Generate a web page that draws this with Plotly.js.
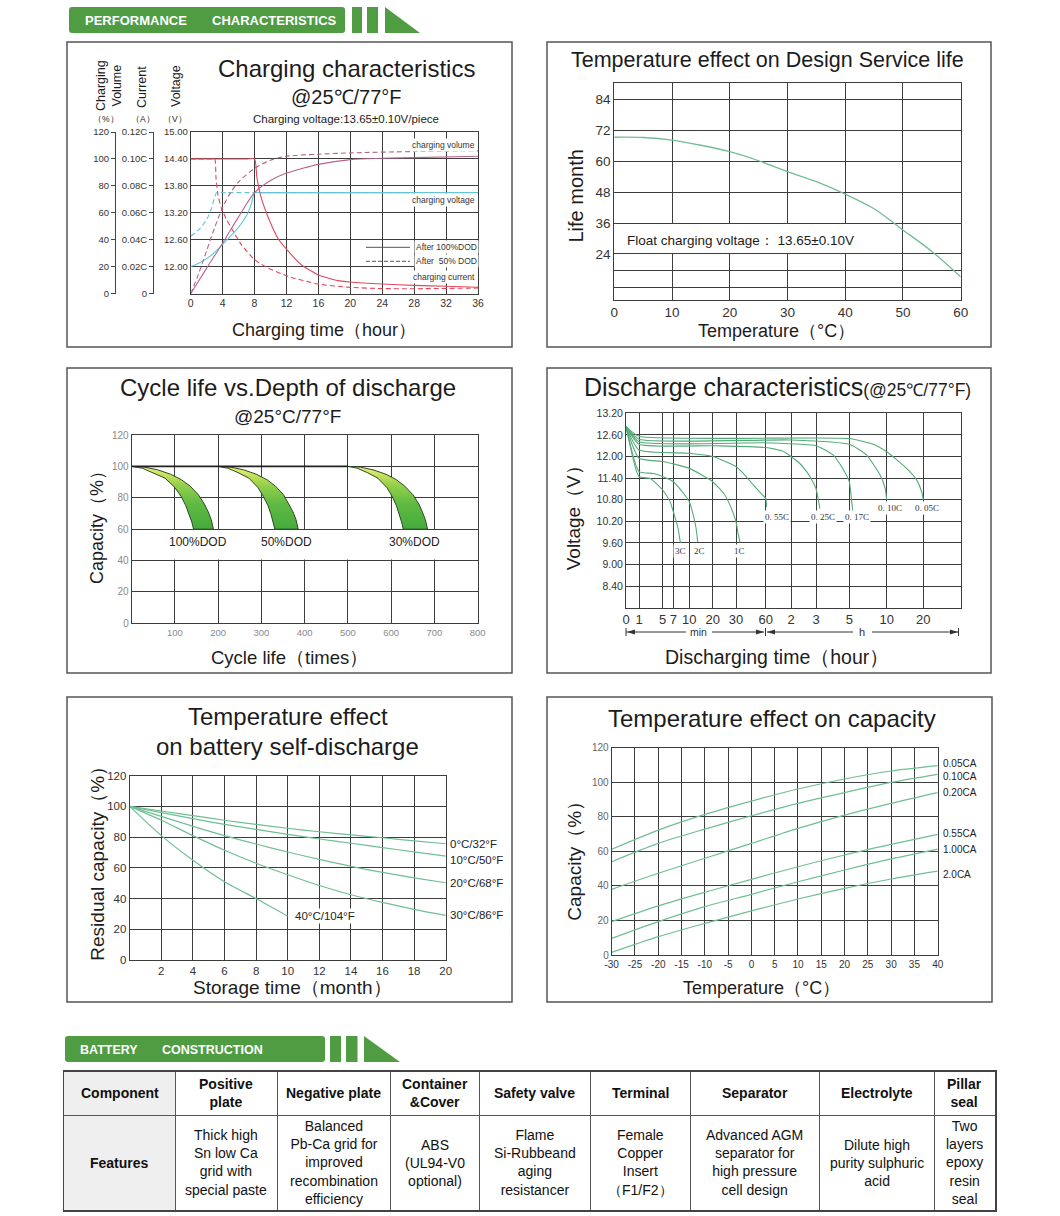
<!DOCTYPE html>
<html>
<head>
<meta charset="utf-8">
<script src="https://cdn.plot.ly/plotly-3.0.1.min.js"></script>
<style>
html,body{margin:0;padding:0;background:#ffffff;}
#chart{width:1060px;height:1216px;}
</style>
</head>
<body>
<div id="chart"></div>
<script>
// ================= DATA =================
// --- Charging characteristics (time in hours) ---
const chgCurT100 = [0, 7, 8, 8.3, 8.85, 9.9, 10.94, 12, 13.86, 15.95, 18.45, 20, 24, 28, 32, 36];
const chgCur100  = [0.100, 0.100, 0.100, 0.086, 0.071, 0.054, 0.041, 0.033, 0.0215, 0.0141, 0.0097, 0.0087, 0.0072, 0.0062, 0.0055, 0.0048];
const chgCurT50  = [0, 2.5, 3.0, 3.17, 3.42, 3.84, 4.5, 5.09, 6.35, 8.02, 9.69, 12.19, 15.95, 20, 24, 28, 36];
const chgCur50   = [0.100, 0.100, 0.100, 0.086, 0.0735, 0.0636, 0.055, 0.0488, 0.0364, 0.0252, 0.0191, 0.0129, 0.0072, 0.0047, 0.0038, 0.0037, 0.0042];
const chgVolT100 = [0, 2, 4, 6, 8, 10, 12, 14, 16, 20, 24, 28, 36];
const chgVol100  = [0, 19, 37.5, 57, 75, 84, 89.5, 93, 96, 99.5, 100.5, 101, 102];
const chgVolT50  = [0, 1, 2, 3, 4, 5, 6, 8, 10, 12, 16, 20, 28, 36];
const chgVol50   = [0, 15, 32, 49, 64, 75, 83, 93, 99, 102, 103.5, 104.5, 105.5, 106];
const chgVoltT100 = [0, 1, 2, 3, 4, 5, 6, 7, 7.6, 8, 9, 36];
const chgVolt100  = [12.0, 12.08, 12.18, 12.32, 12.5, 12.68, 12.88, 13.14, 13.4, 13.65, 13.65, 13.65];
const chgVoltT50  = [0, 1, 2, 2.6, 3, 3.25, 4, 36];
const chgVolt50   = [12.68, 12.82, 13.05, 13.3, 13.55, 13.65, 13.65, 13.65];
const chgVolTicks = [0, 20, 40, 60, 80, 100, 120];
const chgCurTicks = [0, 0.02, 0.04, 0.06, 0.08, 0.10, 0.12];
const chgCurLabels = ['0', '0.02C', '0.04C', '0.06C', '0.08C', '0.10C', '0.12C'];
const chgVoltTicks = [11.4, 12.0, 12.6, 13.2, 13.8, 14.4, 15.0];
const chgVoltLabels = ['', '12.00', '12.60', '13.20', '13.80', '14.40', '15.00'];

// --- Temperature effect on design service life ---
const lifeTemp   = [0, 5, 10, 15, 20, 25, 30, 35, 40, 45, 50, 55, 60];
const lifeMonths = [69.2, 69.1, 68.1, 66.1, 63.6, 60.1, 55.9, 52.0, 47.2, 41.5, 33.3, 25.0, 15.2];
const lifeTicks  = [11.2, 17.8, 24, 36, 48, 60, 72, 84];
const lifeLabels = ['', '', '24', '36', '48', '60', '72', '84'];

// --- Cycle life vs depth of discharge ---
const cycFlatX = [0, 500];
const cycFlatY = [100, 100];
const cyc100OutX = [0, 30, 60, 90, 115, 135, 154, 168, 177, 184, 189];
const cyc100OutY = [100, 99.5, 97.8, 95, 91.5, 87.5, 82, 76, 71, 66, 60];
const cyc100InX  = [0, 25, 50, 77, 100, 115, 125, 133, 139, 143];
const cyc100InY  = [100, 98.8, 96, 92.5, 86.5, 80.5, 75, 69.5, 64.5, 60];
const cyc50OutX  = [200, 229, 259, 288, 313, 332, 351, 364, 373, 380, 385];
const cyc50OutY  = [100, 99.5, 97.8, 95, 91.5, 87.5, 82, 76, 71, 66, 60];
const cyc50InX   = [200, 223, 246, 271, 292, 305, 315, 322, 327, 331];
const cyc50InY   = [100, 98.8, 96, 92.5, 86.5, 80.5, 75, 69.5, 64.5, 60];
const cyc30OutX  = [500, 529, 558, 588, 612, 631, 650, 664, 672, 679, 684];
const cyc30OutY  = [100, 99.5, 97.8, 95, 91.5, 87.5, 82, 76, 71, 66, 60];
const cyc30InX   = [500, 522, 545, 569, 590, 603, 612, 619, 624, 628];
const cyc30InY   = [100, 98.8, 96, 92.5, 86.5, 80.5, 75, 69.5, 64.5, 60];
const cycLabels  = ['100%DOD', '50%DOD', '30%DOD'];
const cycLabelX  = [153, 359, 655];
const cycTicks   = [0, 100, 200, 300, 400, 500, 600, 700, 800];
const cycTickLabels = ['', '100', '200', '300', '400', '500', '600', '700', '800'];

// --- Discharge characteristics (time in minutes, voltage in V) ---
const dchTickMin   = [0, 1, 5, 7, 10, 20, 30, 60, 120, 180, 300, 600, 1200];
const dchTickLabel = ['0', '1', '5', '7', '10', '20', '30', '60', '2', '3', '5', '10', '20'];
const dchT3C  = [0, 1, 2.9, 5, 6.4, 7.2, 7.9, 8.25, 8.4];
const dchV3C  = [12.83, 11.44, 11.39, 11.07, 10.74, 10.37, 10.0, 9.68, 9.6];
const dchT2C  = [0, 1, 3.4, 5.1, 7, 8.9, 10, 11.7, 12.9, 13.6];
const dchV2C  = [12.83, 11.58, 11.53, 11.44, 11.3, 10.98, 10.74, 10.37, 10.0, 9.62];
const dchT1C  = [0, 1, 5.1, 10, 20, 25, 27.4, 30, 32.4, 34];
const dchV1C  = [12.83, 11.95, 11.86, 11.67, 11.3, 10.95, 10.65, 10.19, 9.82, 9.62];
const dchT055 = [0, 1, 10, 20, 30, 40, 47.5, 55, 60, 62];
const dchV055 = [12.83, 12.18, 12.09, 12.0, 11.72, 11.45, 11.21, 10.98, 10.84, 10.6];
const dchT025 = [0, 1, 20, 60, 100, 120, 140, 157.6, 170, 180, 187, 194];
const dchV025 = [12.83, 12.34, 12.3, 12.25, 12.15, 12.0, 11.82, 11.58, 11.35, 11.11, 10.85, 10.55];
const dchT017 = [0, 1, 60, 180, 242, 280, 300, 315, 327];
const dchV017 = [12.83, 12.41, 12.38, 12.3, 12.04, 11.62, 11.3, 10.9, 10.5];
const dchT010 = [0, 1, 120, 300, 439, 546, 587, 600];
const dchV010 = [12.83, 12.48, 12.46, 12.34, 12.04, 11.49, 11.12, 10.8];
const dchT005 = [0, 1, 300, 493, 600, 927, 1091, 1173, 1200];
const dchV005 = [12.83, 12.56, 12.5, 12.34, 12.13, 11.67, 11.35, 11.02, 10.8];
const dchRates = ['3C', '2C', '1C', '0. 55C', '0. 25C', '0. 17C', '0. 10C', '0. 05C'];
const dchVoltTicks  = [7.8, 8.4, 9.0, 9.6, 10.2, 10.8, 11.4, 12.0, 12.6, 13.2];
const dchVoltLabels = ['', '8.40', '9.00', '9.60', '10.20', '10.80', '11.40', '12.00', '12.60', '13.20'];

// --- Temperature effect on self-discharge ---
const selfMonths   = [0, 2, 4, 6, 8, 10, 12, 14, 16, 18, 20];
const selfMonths40 = [0, 2, 4, 6, 8, 10];
const self0C  = [100, 97, 94, 91, 88.3, 85.8, 83.5, 81.5, 79.6, 77.6, 75.7];
const self10C = [100, 96, 92, 88.3, 85, 81.8, 78.8, 76, 73.2, 70.4, 67.6];
const self20C = [100, 93.5, 87, 81, 75.5, 70.3, 65.5, 61, 57, 53.5, 50.3];
const self30C = [100, 91, 81, 71.5, 63, 55.5, 48.5, 42.5, 37.5, 33, 29];
const self40C = [100, 81, 65, 51, 40, 28.5];
const selfLabels = ['0°C/32°F', '10°C/50°F', '20°C/68°F', '30°C/86°F', '40°C/104°F'];
const selfTicks = [0, 2, 4, 6, 8, 10, 12, 14, 16, 18, 20];
const selfTickLabels = ['', '2', '4', '6', '8', '10', '12', '14', '16', '18', '20'];

// --- Temperature effect on capacity ---
const capTemp  = [-30, -20, -10, 0, 10, 20, 30, 40];
const cap005 = [61.2, 72.3, 81.4, 89.1, 96.1, 101.9, 106.5, 109.6];
const cap010 = [54, 64.6, 72.9, 80.6, 87.8, 94, 99.9, 104.6];
const cap020 = [38, 47.3, 56, 64.6, 73.3, 81, 87.8, 94];
const cap055 = [19.3, 28.4, 36.3, 43.8, 51.1, 57.9, 64, 69.8];
const cap100 = [9.6, 19.3, 28, 35.1, 42.4, 49.2, 55.6, 61.3];
const cap200 = [1.5, 10.6, 18.3, 25.5, 32.4, 38.6, 44, 48.6];
const capLabels = ['0.05CA', '0.10CA', '0.20CA', '0.55CA', '1.00CA', '2.0CA'];
const capTicks = [-30, -25, -20, -15, -10, -5, 0, 5, 10, 15, 20, 25, 30, 35, 40];
const capTickLabels = ['-30', '-25', '-20', '-15', '-10', '-5', '0', '5', '10', '15', '20', '25', '30', '35', '40'];

// --- Battery construction table ---
const tblComponents = ['Component', 'Positive<br>plate', 'Negative plate', 'Container<br>&Cover', 'Safety valve', 'Terminal', 'Separator', 'Electrolyte', 'Pillar<br>seal'];
const tblFeatures = ['Features', 'Thick high<br>Sn low Ca<br>grid with<br>special paste', 'Balanced<br>Pb-Ca grid for<br>improved<br>recombination<br>efficiency', 'ABS<br>(UL94-V0<br>optional)', 'Flame<br>Si-Rubbeand<br>aging<br>resistancer', 'Female<br>Copper<br>Insert<br>（F1/F2）', 'Advanced AGM<br>separator for<br>high pressure<br>cell design', 'Dilute high<br>purity sulphuric<br>acid', 'Two<br>layers<br>epoxy<br>resin<br>seal'];

// ================= LAYOUT HELPERS =================
const W = 1060, H = 1216;
const FONT = '"Liberation Sans", Arial, Helvetica, sans-serif';
const SERIF = '"Liberation Serif", "DejaVu Serif", serif';
const PX = x => x / W;
const PY = y => 1 - y / H;
const xdom = (a, b) => [a / W, b / W];
const ydom = (top, bottom) => [1 - bottom / H, 1 - top / H];
const GRID = '#3d3d3d';
const TXT = '#1c1c1c';
const GREEN = '#4f9c43';

// axis spacing of the discharge chart's time axis as drawn (pixels from left edge)
const dchTickPos = [0, 13, 36.7, 47.3, 63.3, 86.7, 110, 139.7, 165, 190, 223.3, 260.7, 297.3];
const dchAxisMax = 334.7;
function dchPos(t) {
  const n = dchTickMin.length;
  for (let i = 0; i < n - 1; i++) {
    if (t <= dchTickMin[i + 1]) {
      return dchTickPos[i] + (t - dchTickMin[i]) / (dchTickMin[i + 1] - dchTickMin[i]) * (dchTickPos[i + 1] - dchTickPos[i]);
    }
  }
  return dchTickPos[n - 1] + (t - dchTickMin[n - 1]) / (dchTickMin[n - 1] - dchTickMin[n - 2]) * (dchTickPos[n - 1] - dchTickPos[n - 2]);
}

function ax(o) {
  return Object.assign({
    showgrid: true, gridcolor: GRID, gridwidth: 1,
    showline: true, linecolor: GRID, linewidth: 1, mirror: true,
    zeroline: false, ticks: '', fixedrange: true,
    tickfont: {family: FONT, size: 11, color: '#333'}
  }, o);
}

function line(x, y, xa, ya, color, width, dash, shape, smoothing) {
  return {
    type: 'scatter', mode: 'lines', x: x, y: y, xaxis: xa, yaxis: ya,
    line: {color: color, width: width, dash: dash || 'solid', shape: shape || 'spline', smoothing: smoothing === undefined ? 0.8 : smoothing},
    hoverinfo: 'skip'
  };
}

const annotations = [];
const shapes = [];
function txt(x, y, text, size, o) {
  annotations.push(Object.assign({
    xref: 'paper', yref: 'paper', x: PX(x), y: PY(y), text: text, showarrow: false,
    xanchor: 'center', yanchor: 'middle',
    font: {family: FONT, size: size, color: TXT}
  }, o || {}));
}
function rectPx(x0, y0, x1, y1, o) {
  shapes.push(Object.assign({type: 'rect', xref: 'paper', yref: 'paper',
    x0: PX(x0), x1: PX(x1), y0: PY(y1), y1: PY(y0)}, o));
}
function linePx(x0, y0, x1, y1, o) {
  shapes.push(Object.assign({type: 'line', xref: 'paper', yref: 'paper',
    x0: PX(x0), x1: PX(x1), y0: PY(y0), y1: PY(y1), line: {color: '#333', width: 1}}, o || {}));
}
function pathPx(pts, o) {
  const d = pts.map((p, i) => (i ? 'L' : 'M') + PX(p[0]) + ',' + PY(p[1])).join(' ') + ' Z';
  shapes.push(Object.assign({type: 'path', xref: 'paper', yref: 'paper', path: d, line: {width: 0}}, o));
}
function roundRectPx(x0, y0, x1, y1, r, color) {
  const P = (x, y) => PX(x) + ',' + PY(y);
  const d = 'M' + P(x0 + r, y0) + ' L' + P(x1 - r, y0) + ' Q' + P(x1, y0) + ' ' + P(x1, y0 + r) +
    ' L' + P(x1, y1 - r) + ' Q' + P(x1, y1) + ' ' + P(x1 - r, y1) +
    ' L' + P(x0 + r, y1) + ' Q' + P(x0, y1) + ' ' + P(x0, y1 - r) +
    ' L' + P(x0, y0 + r) + ' Q' + P(x0, y0) + ' ' + P(x0 + r, y0) + ' Z';
  shapes.push({type: 'path', xref: 'paper', yref: 'paper', path: d, fillcolor: color, line: {width: 0}});
}
function banner(x0, y0, x1, y1, bars, tri, words) {
  roundRectPx(x0, y0, x1, y1, 3, GREEN);
  bars.forEach(b => rectPx(b[0], y0, b[1], y1, {fillcolor: GREEN, line: {width: 0}}));
  pathPx([[tri[0], y0], [tri[1], y1], [tri[0], y1]], {fillcolor: GREEN});
  words.forEach(w => txt(w[0], (y0 + y1) / 2 + 0.5, '<b>' + w[1] + '</b>', w[2], {xanchor: 'left', font: {family: FONT, size: w[2], color: '#ffffff'}}));
}

// ================= BANNERS & PANELS =================
banner(69, 7, 345, 33, [[352, 362], [367, 378]], [385, 420], [[83, 'PERFORMANCE', 13], [210, 'CHARACTERISTICS', 13]]);
banner(65, 1036, 325, 1062, [[330, 341], [346, 357.5]], [364, 400], [[78, 'BATTERY', 12.5], [160, 'CONSTRUCTION', 12.5]]);

[[67, 42, 512, 347], [547, 42, 991, 347], [67, 368, 512, 673], [547, 368, 991, 673], [67, 697, 512, 1002], [547, 697, 992, 1002]]
  .forEach(b => rectPx(b[0], b[1], b[2], b[3], {line: {color: '#555', width: 1.5}, fillcolor: 'rgba(0,0,0,0)', layer: 'above'}));

const traces = [];
const layout = {
  width: W, height: H, margin: {l: 0, r: 0, t: 0, b: 0},
  paper_bgcolor: '#ffffff', plot_bgcolor: '#ffffff',
  showlegend: false, hovermode: false,
  font: {family: FONT, color: TXT}
};

// ================= CHART 1: Charging characteristics =================
const RED = '#e0485e', MAUVE = '#b8648f', CYAN = '#62c4d4';
layout.xaxis = ax({domain: xdom(190.7, 478), anchor: 'y', range: [0, 36], tick0: 0, dtick: 4, tickfont: {family: FONT, size: 10.5, color: '#333'}});
layout.yaxis = ax({domain: ydom(132, 293.7), anchor: 'x', range: [11.4, 15.0], tickvals: chgVoltTicks, ticktext: chgVoltLabels, tickfont: {family: FONT, size: 9.5, color: '#333'}});
layout.yaxis2 = {overlaying: 'y', anchor: 'free', position: PX(115), side: 'left', range: [0, 120],
  tickvals: chgVolTicks, showgrid: false, zeroline: false, showline: true, linecolor: '#444', linewidth: 1,
  ticks: 'outside', ticklen: 4, tickcolor: '#444', fixedrange: true, tickfont: {family: FONT, size: 9.5, color: '#333'}};
layout.yaxis3 = {overlaying: 'y', anchor: 'free', position: PX(153), side: 'left', range: [0, 0.12],
  tickvals: chgCurTicks, ticktext: chgCurLabels, showgrid: false, zeroline: false, showline: true, linecolor: '#444', linewidth: 1,
  ticks: 'outside', ticklen: 4, tickcolor: '#444', fixedrange: true, tickfont: {family: FONT, size: 9.5, color: '#333'}};

traces.push(line(chgVoltT100, chgVolt100, 'x', 'y', CYAN, 1.1, 'solid', 'spline', 0.6));
traces.push(line(chgVoltT50, chgVolt50, 'x', 'y', CYAN, 1.1, '5px,3px', 'spline', 0.6));
traces.push(line(chgVolT100, chgVol100, 'x', 'y2', MAUVE, 1.1, 'solid', 'spline', 0.8));
traces.push(line(chgVolT50, chgVol50, 'x', 'y2', MAUVE, 1.1, '5px,3px', 'spline', 0.8));
traces.push(line(chgCurT100, chgCur100, 'x', 'y3', RED, 1.1, 'solid', 'spline', 0.6));
traces.push(line(chgCurT50, chgCur50, 'x', 'y3', RED, 1.1, '5px,3px', 'spline', 0.6));

txt(346, 68, 'Charging characteristics', 24);
txt(346, 97, '@25℃/77°F', 20);
txt(346, 119, 'Charging voltage:13.65±0.10V/piece', 11.5);
txt(109, 86, 'Charging<br>Volume', 12.5, {textangle: -90});
txt(106, 119, '（%）', 8.5);
txt(142, 87, 'Current', 12.5, {textangle: -90});
txt(143, 119, '（A）', 8.5);
txt(176, 86, 'Voltage', 12.5, {textangle: -90});
txt(175, 119, '（V）', 8.5);
txt(324, 330, 'Charging time（hour）', 18);
const smallLbl = {xanchor: 'right', bgcolor: '#ffffff', font: {family: FONT, size: 8.5, color: '#333'}};
txt(477, 144.5, 'charging volume', 8.5, smallLbl);
txt(477, 199.5, 'charging voltage', 8.5, smallLbl);
txt(477, 277, 'charging current', 8.5, smallLbl);
txt(414, 247.3, 'After 100%DOD', 8.5, Object.assign({}, smallLbl, {xanchor: 'left'}));
txt(414, 261.3, 'After&nbsp;&nbsp;50% DOD', 8.5, Object.assign({}, smallLbl, {xanchor: 'left'}));
linePx(366, 247.3, 410, 247.3, {line: {color: '#555', width: 1}});
linePx(366, 261.3, 410, 261.3, {line: {color: '#555', width: 1, dash: '4px,2px'}});

// ================= CHART 2: Temperature effect on design service life =================
layout.xaxis2 = ax({domain: xdom(614.3, 960.7), anchor: 'y4', range: [0, 60], tick0: 0, dtick: 10, tickfont: {family: FONT, size: 13.5, color: '#333'}});
layout.yaxis4 = ax({domain: ydom(83.3, 300), anchor: 'x2', range: [6.19, 90.08], tickvals: lifeTicks, ticktext: lifeLabels, tickfont: {family: FONT, size: 13.5, color: '#333'}});
traces.push(line(lifeTemp, lifeMonths, 'x2', 'y4', '#72bd96', 1.3));
shapes.push({type: 'rect', xref: 'x2', yref: 'y4', x0: 0.3, x1: 44.5, y0: 24.4, y1: 35.6, fillcolor: '#ffffff', line: {width: 0}, layer: 'between'});
txt(767, 60, 'Temperature effect on Design Service life', 21.5);
txt(575, 196.5, 'Life month', 20, {textangle: -90});
txt(625, 240, 'Float charging voltage： 13.65±0.10V', 13.5, {xanchor: 'left'});
txt(776, 331, 'Temperature（°C）', 18);

// ================= CHART 3: Cycle life vs depth of discharge =================
layout.xaxis3 = ax({domain: xdom(131.7, 477.7), anchor: 'y5', range: [0, 800], tickvals: cycTicks, ticktext: cycTickLabels, tickfont: {family: FONT, size: 9.5, color: '#8a8a8a'}});
layout.yaxis5 = ax({domain: ydom(435, 623.3), anchor: 'x3', range: [0, 120], tick0: 0, dtick: 20, tickfont: {family: FONT, size: 10, color: '#8a8a8a'}});
shapes.push({type: 'rect', xref: 'x3', yref: 'y5', x0: 0, x1: 800, y0: 40.6, y1: 59.4, fillcolor: '#ffffff', line: {width: 0}, layer: 'between'});
const bandScale = [[0, '#45ab3c'], [0.4, '#5fba42'], [0.7, '#94cf4c'], [0.88, '#cde35f'], [1, '#eef08a']];
[[cyc100OutX, cyc100OutY, cyc100InX, cyc100InY], [cyc50OutX, cyc50OutY, cyc50InX, cyc50InY], [cyc30OutX, cyc30OutY, cyc30InX, cyc30InY]]
  .forEach(b => {
    traces.push({type: 'scatter', mode: 'lines', xaxis: 'x3', yaxis: 'y5',
      x: b[0].concat(b[2].slice().reverse()), y: b[1].concat(b[3].slice().reverse()),
      fill: 'toself', fillgradient: {type: 'vertical', colorscale: bandScale},
      line: {color: '#2c4a22', width: 1}, hoverinfo: 'skip'});
  });
traces.push(line(cycFlatX, cycFlatY, 'x3', 'y5', '#222', 1.6, 'solid', 'linear'));
cycLabels.forEach((t, i) => annotations.push({xref: 'x3', yref: 'y5', x: cycLabelX[i], y: 51.8, text: t, showarrow: false,
  font: {family: FONT, size: 12, color: '#222'}}));
txt(287.5, 388, 'Cycle life vs.Depth of discharge', 24);
txt(287.5, 416.7, '@25°C/77°F', 19);
txt(97, 523, 'Capacity（%）', 18, {textangle: -90});
txt(289, 657.7, 'Cycle life（times）', 18.5);

// ================= CHART 4: Discharge characteristics =================
layout.xaxis4 = ax({domain: xdom(626, 960.7), anchor: 'y6', range: [0, dchAxisMax], tickvals: dchTickPos, ticktext: dchTickLabel, tickfont: {family: FONT, size: 13, color: '#333'}});
layout.yaxis6 = ax({domain: ydom(413.3, 607.7), anchor: 'x4', range: [7.8, 13.2], tickvals: dchVoltTicks, ticktext: dchVoltLabels, tickfont: {family: FONT, size: 10.5, color: '#333'}});
const dchSeries = [[dchT3C, dchV3C], [dchT2C, dchV2C], [dchT1C, dchV1C], [dchT055, dchV055], [dchT025, dchV025], [dchT017, dchV017], [dchT010, dchV010], [dchT005, dchV005]];
const dchLabelV = [9.38, 9.38, 9.38, 10.33, 10.33, 10.33, 10.56, 10.56];
const dchLabelShift = [0, 2, 0, 10, 3, 4, 3, 4];
dchSeries.forEach((s, i) => {
  traces.push(line(s[0].map(dchPos), s[1], 'x4', 'y6', '#55ab78', 1.1, 'solid', 'spline', 0.5));
  annotations.push({xref: 'x4', yref: 'y6', x: dchPos(s[0][s[0].length - 1]), y: dchLabelV[i], xshift: dchLabelShift[i],
    text: dchRates[i], showarrow: false, bgcolor: '#ffffff', borderpad: 1,
    font: {family: SERIF, size: 9, color: '#333'}});
});
txt(777, 386.7, 'Discharge characteristics<span style="font-size:17.5px">(@25℃/77°F)</span>', 25);
txt(573.3, 513, 'Voltage（V）', 19, {textangle: -90});
txt(776.7, 656.7, 'Discharging time（hour）', 19.5);
// min / h span markers
linePx(626, 632, 686, 632); linePx(712, 632, 764, 632);
linePx(767, 632, 853, 632); linePx(872, 632, 958, 632);
linePx(626, 628, 626, 636); linePx(765.5, 628, 765.5, 636); linePx(958.5, 628, 958.5, 636);
pathPx([[627, 632], [635, 629.5], [635, 634.5]], {fillcolor: '#333'});
pathPx([[764, 632], [756, 629.5], [756, 634.5]], {fillcolor: '#333'});
pathPx([[767, 632], [775, 629.5], [775, 634.5]], {fillcolor: '#333'});
pathPx([[958, 632], [950, 629.5], [950, 634.5]], {fillcolor: '#333'});
txt(698.5, 632, 'min', 10.5, {font: {family: FONT, size: 10.5, color: '#333'}});
txt(862, 632, 'h', 11, {font: {family: FONT, size: 11, color: '#333'}});

// ================= CHART 5: Self-discharge =================
layout.xaxis5 = ax({domain: xdom(129.7, 445.7), anchor: 'y7', range: [0, 20], tickvals: selfTicks, ticktext: selfTickLabels, tickfont: {family: FONT, size: 11.5, color: '#333'}});
layout.yaxis7 = ax({domain: ydom(775.7, 960), anchor: 'x5', range: [0, 120], tick0: 0, dtick: 20, tickfont: {family: FONT, size: 11.5, color: '#333'}});
const SDC = '#6fbf94';
const selfSeries = [[selfMonths, self0C], [selfMonths, self10C], [selfMonths, self20C], [selfMonths, self30C], [selfMonths40, self40C]];
const selfLblShift = [0, -4, 0, 0, 0];
selfSeries.forEach((s, i) => {
  traces.push(line(s[0], s[1], 'x5', 'y7', SDC, 1.2));
  annotations.push({xref: 'x5', yref: 'y7', x: s[0][s[0].length - 1], y: s[1][s[1].length - 1],
    xanchor: 'left', yanchor: 'middle', xshift: i === 4 ? 5 : 2, yshift: selfLblShift[i],
    text: selfLabels[i], showarrow: false, bgcolor: i === 4 ? '#ffffff' : 'rgba(0,0,0,0)',
    font: {family: FONT, size: 11.5, color: '#222'}});
});
txt(287.5, 716.7, 'Temperature effect', 24);
txt(287.5, 746.7, 'on battery self-discharge', 24);
txt(96.7, 859, 'Residual capacity（%）', 19, {textangle: -90});
txt(292.5, 987.7, 'Storage time（month）', 19);

// ================= CHART 6: Temperature effect on capacity =================
layout.xaxis6 = ax({domain: xdom(611.7, 937.7), anchor: 'y8', range: [-30, 40], tickvals: capTicks, ticktext: capTickLabels, tickfont: {family: FONT, size: 10, color: '#333'}});
layout.yaxis8 = ax({domain: ydom(747.7, 955), anchor: 'x6', range: [0, 120], tick0: 0, dtick: 20, tickfont: {family: FONT, size: 10, color: '#666'}});
const capSeries = [cap005, cap010, cap020, cap055, cap100, cap200];
const capLblShift = [2, -2, 0, 1, 0, -3];
capSeries.forEach((s, i) => {
  traces.push(line(capTemp, s, 'x6', 'y8', SDC, 1.2));
  annotations.push({xref: 'x6', yref: 'y8', x: capTemp[capTemp.length - 1], y: s[s.length - 1],
    xanchor: 'left', yanchor: 'middle', xshift: 3, yshift: capLblShift[i],
    text: capLabels[i], showarrow: false, font: {family: FONT, size: 10, color: '#222'}});
});
txt(771.7, 718.3, 'Temperature effect on capacity', 24);
txt(575, 856.7, 'Capacity（%）', 19, {textangle: -90});
txt(761.7, 988.3, 'Temperature（°C）', 18);

// ================= TABLE: Battery construction =================
const tblColW = [111, 102, 113, 89, 111, 100, 129, 115, 61];
const tblRowH = [43.3, 95];
const tblTotalW = tblColW.reduce((a, b) => a + b, 0);
const tblTotalH = tblRowH[0] + tblRowH[1];
const tblEdges = [];
tblColW.reduce((acc, w) => { tblEdges.push(acc + w); return acc + w; }, 0);
layout.xaxis7 = {domain: xdom(64, 995), anchor: 'y9', range: [0, tblTotalW], tickvals: tblEdges.slice(0, -1),
  showgrid: true, gridcolor: '#555', gridwidth: 1, showticklabels: false, ticks: '', zeroline: false,
  showline: true, mirror: true, linecolor: '#444', linewidth: 1.5, fixedrange: true};
layout.yaxis9 = {domain: ydom(1071.7, 1210), anchor: 'x7', range: [tblTotalH, 0], tickvals: [tblRowH[0]],
  showgrid: true, gridcolor: '#555', gridwidth: 1, showticklabels: false, ticks: '', zeroline: false,
  showline: true, mirror: true, linecolor: '#444', linewidth: 1.5, fixedrange: true};
shapes.push({type: 'rect', xref: 'x7', yref: 'y9', x0: 0, x1: tblColW[0], y0: 0, y1: tblTotalH, fillcolor: '#efefef', line: {width: 0}, layer: 'below'});
tblComponents.forEach((c, i) => {
  const cx = tblEdges[i] - tblColW[i] / 2;
  annotations.push({xref: 'x7', yref: 'y9', x: cx, y: tblRowH[0] / 2, text: '<b>' + c + '</b>', showarrow: false,
    xanchor: 'center', yanchor: 'middle', font: {family: FONT, size: 14, color: '#111'}});
  const f = tblFeatures[i];
  annotations.push({xref: 'x7', yref: 'y9', x: cx, y: tblRowH[0] + tblRowH[1] / 2, text: i === 0 ? '<b>' + f + '</b>' : f, showarrow: false,
    xanchor: 'center', yanchor: 'middle', font: {family: FONT, size: 14, color: '#111'}});
});

layout.annotations = annotations;
layout.shapes = shapes;

Plotly.newPlot('chart', traces, layout, {staticPlot: true, displayModeBar: false});
</script>
</body>
</html>
